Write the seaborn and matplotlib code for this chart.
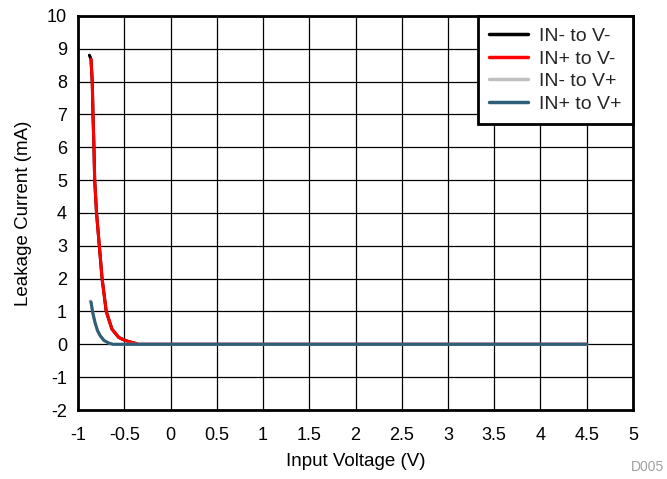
import matplotlib
matplotlib.use("Agg")
import matplotlib.pyplot as plt
import seaborn as sns
import pandas as pd

# Data
x_in_minus_vminus = [-0.877, -0.86, -0.846, -0.838, -0.828, -0.82, -0.80, -0.77, -0.74, -0.695, -0.633, -0.56, -0.50, -0.45, -0.38, -0.35, 4.5]
y_in_minus_vminus = [8.8, 8.68, 7.97, 6.95, 6.0, 5.0, 4.0, 3.0, 2.0, 1.0, 0.46, 0.21, 0.13, 0.08, 0.03, 0.0, 0.0]

x_in_plus_vminus = [-0.86, -0.846, -0.838, -0.828, -0.82, -0.80, -0.77, -0.74, -0.695, -0.633, -0.56, -0.50, -0.45, -0.38, -0.35, 4.5]
y_in_plus_vminus = [8.68, 7.97, 6.95, 6.0, 5.0, 4.0, 3.0, 2.0, 1.0, 0.46, 0.21, 0.13, 0.08, 0.03, 0.0, 0.0]

x_in_minus_vplus = [-0.87, -0.86, -0.84, -0.817, -0.79, -0.76, -0.72, -0.67, -0.62, 4.5]
y_in_minus_vplus = [1.32, 1.29, 0.95, 0.67, 0.42, 0.26, 0.12, 0.04, 0.0, 0.0]

x_in_plus_vplus = [-0.86, -0.84, -0.817, -0.79, -0.76, -0.72, -0.67, -0.62, 4.5]
y_in_plus_vplus = [1.29, 0.95, 0.67, 0.42, 0.26, 0.12, 0.04, 0.0, 0.0]

series_names = ["IN- to V-", "IN+ to V-", "IN- to V+", "IN+ to V+"]
series_colors = ["#000000", "#ff0000", "#c0c0c0", "#2e5f78"]

x_ticks = [-1, -0.5, 0, 0.5, 1, 1.5, 2, 2.5, 3, 3.5, 4, 4.5, 5]
x_tick_labels = ["-1", "-0.5", "0", "0.5", "1", "1.5", "2", "2.5", "3", "3.5", "4", "4.5", "5"]
y_ticks = list(range(-2, 11))
y_tick_labels = [str(v) for v in y_ticks]

sns.set_theme(style="white")
plt.rcParams['font.family'] = ['Liberation Sans', 'DejaVu Sans']
plt.rcParams['axes.unicode_minus'] = False

frames = []
for name, xs, ys in zip(series_names,
                        [x_in_minus_vminus, x_in_plus_vminus, x_in_minus_vplus, x_in_plus_vplus],
                        [y_in_minus_vminus, y_in_plus_vminus, y_in_minus_vplus, y_in_plus_vplus]):
    frames.append(pd.DataFrame({"x": xs, "y": ys, "series": name}))
df = pd.concat(frames, ignore_index=True)

fig = plt.figure(figsize=(6.67, 4.79), dpi=100)
ax = fig.add_axes([0.117, 0.144, 0.832, 0.823])

sns.lineplot(data=df, x="x", y="y", hue="series", hue_order=series_names,
             palette=dict(zip(series_names, series_colors)), sort=False,
             estimator=None, linewidth=2.2, ax=ax, zorder=3)

ax.set_xlim(-1, 5)
ax.set_ylim(-2, 10)
ax.set_xticks(x_ticks)
ax.set_xticklabels(x_tick_labels)
ax.set_yticks(y_ticks)
ax.set_yticklabels(y_tick_labels)
ax.grid(True, color="black", linewidth=0.9)
ax.set_axisbelow(True)
ax.tick_params(length=0, labelsize=13, colors="black")
ax.tick_params(axis="x", pad=12)
ax.tick_params(axis="y", pad=8)
for s in ax.spines.values():
    s.set_color("black")
    s.set_linewidth(2)
    s.set_visible(True)
ax.set_xlabel("Input Voltage (V)", fontsize=13.5, color="black", labelpad=7)
ax.set_ylabel("Leakage Current (mA)", fontsize=13.5, color="black", labelpad=11)

leg = ax.legend(loc="upper right", borderaxespad=0, fontsize=14, frameon=True,
                fancybox=False, handlelength=2.0, labelspacing=0.25,
                borderpad=0.6, handletextpad=0.55)
leg.get_frame().set_edgecolor("black")
leg.get_frame().set_linewidth(2)
leg.get_frame().set_alpha(1)
for line in leg.get_lines():
    line.set_linewidth(2.5)

fig.text(0.995, 0.01, "D005", ha="right", va="bottom", fontsize=10, color="#a0a0a0")

fig.savefig("out.png", dpi=100)
